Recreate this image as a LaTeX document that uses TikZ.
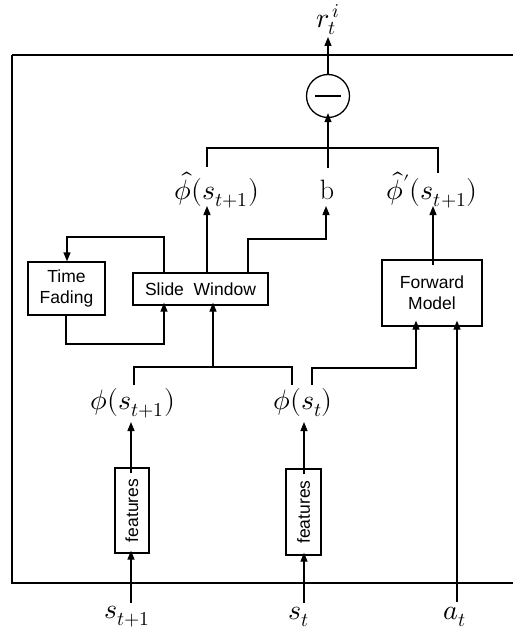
\documentclass[tikz,border=0pt]{standalone}
\usepackage{fontspec}
\usepackage{unicode-math}
\setmathfont{Latin Modern Math}
\newfontfamily\arial{Liberation Sans}
\usetikzlibrary{arrows.meta,calc}
\begin{document}
\begin{tikzpicture}[x=1pt,y=-1pt,
  line width=1.3pt,
  arr/.style={-{Triangle[length=9pt,width=7pt]}},
  blk/.style={draw,rectangle,inner sep=0pt,font=\arial\fontsize{17.5}{21}\selectfont,align=center},
  lab/.style={inner sep=0pt,font=\fontsize{28}{32}\selectfont}]
\useasboundingbox (0,0) rectangle (512,639);
\draw (12,55) -- (525,55) (12,55) -- (12,583) -- (525,583);
% nodes
\node[draw,circle,minimum size=43pt,inner sep=0pt] (circ) at (328,96) {};
\draw[line width=2pt] (315,96) -- (341,96);
\node[lab] (rt) at (328,20) {$r_t^{\,i}$};
\node[lab] (phh) at (217,190) {$\hat{\phi}(s_{t+1})$};
\node[lab] (b) at (327,190) {$\mathrm{b}$};
\node[lab] (php) at (432,190) {$\hat{\phi}'(s_{t+1})$};
\node[blk,minimum width=135pt,minimum height=32pt] (sw) at (200.5,289) {Slide\ \ Window};
\node[blk,minimum width=77pt,minimum height=53pt] (tf) at (66.5,288.5) {Time\\Fading};
\node[blk,minimum width=100pt,minimum height=66pt] (fm) at (432,293) {Forward\\Model};
\node[lab] (phi1) at (133,403) {$\phi(s_{t+1})$};
\node[lab] (phi2) at (303,403) {$\phi(s_t)$};
\node[blk,rotate=90,minimum width=85pt,minimum height=34pt] (f1) at (132,510.5) {features};
\node[blk,rotate=90,minimum width=86pt,minimum height=35pt] (f2) at (303.5,512) {features};
\node[lab] (s1) at (127,617) {$s_{t+1}$};
\node[lab] (s2) at (299,617) {$s_t$};
\node[lab] (at) at (455,617) {$a_t$};
\coordinate (top) at (328,37);
% connectors
\draw[arr] (circ.north) -- (top);
\draw (207,167) -- (207,148) -- (438,148) -- (438,173);
\draw[arr] (328,168) -- ([yshift=5pt]circ.south);
\draw[arr] (sw.north -| 207,0) -- (207,206);
\draw[arr] (sw.north -| 248,0) -- (248,239) -- (326,239) -- (326,206);
\draw[arr] ([yshift=-6pt]fm.north -| 433,0) -- (433,206);
\draw[arr] (sw.north -| 164,0) -- (164,237) -- (67,237) -- (tf.north -| 67,0);
\draw[arr] (tf.south -| 66,0) -- (66,344) -- (164,344) -- ([yshift=3pt]sw.south -| 164,0);
\draw (134,385) -- (134,367) -- (292,367) -- (292,385);
\draw[arr] (213,367) -- ([yshift=3pt]sw.south -| 213,0);
\draw[arr] (312,385) -- (312,368) -- (416,368) -- ([yshift=6pt]fm.south -| 416,0);
\draw[arr] (457,602) -- ([yshift=6pt]fm.south -| 457,0);
\draw[arr] ([yshift=-6pt]f1.east -| 131,0) -- (131,422);
\draw[arr] ([yshift=-6pt]f2.east -| 304,0) -- (304,422);
\draw[arr] (131,603) -- ([yshift=3pt]f1.west -| 131,0);
\draw[arr] (304,603) -- ([yshift=3pt]f2.west -| 304,0);
\end{tikzpicture}
\end{document}
